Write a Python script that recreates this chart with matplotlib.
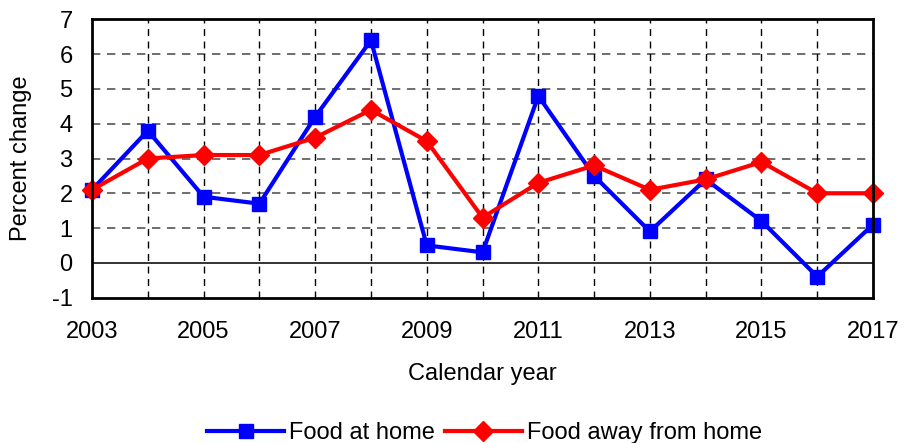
import matplotlib.pyplot as plt
import numpy as np

plt.rcParams['font.family'] = ['Liberation Sans', 'DejaVu Sans']
plt.rcParams['axes.unicode_minus'] = False

years = list(range(2003, 2018))
food_home = [2.1, 3.8, 1.9, 1.7, 4.2, 6.4, 0.5, 0.3, 4.8, 2.5, 0.9, 2.4, 1.2, -0.4, 1.1]
food_away = [2.1, 3.0, 3.1, 3.1, 3.6, 4.4, 3.5, 1.3, 2.3, 2.8, 2.1, 2.4, 2.9, 2.0, 2.0]
xticks = [2003, 2005, 2007, 2009, 2011, 2013, 2015, 2017]
yticks = list(range(-1, 8))

fig = plt.figure(figsize=(9.14, 4.43), dpi=100)
ax = fig.add_axes([0.1007, 0.3284, 0.8545, 0.6276])

# grid
for y in yticks[1:-1]:
    if y == 0:
        continue
    ax.axhline(y, color='#555555', lw=1.2, ls=(0, (5, 4)), zorder=1)
for x in years[1:-1]:
    ax.axvline(x, color='black', lw=1.0, ls=(0, (5, 4)), zorder=1)
ax.axhline(0, color='#333333', lw=1.4, zorder=1)

ax.plot(years, food_home, color='#0000ff', lw=3, marker='s', ms=10,
        label='Food at home', zorder=3, clip_on=False)
ax.plot(years, food_away, color='#ff0000', lw=3, marker='D', ms=10,
        label='Food away from home', zorder=4, clip_on=False)

ax.set_xlim(2003, 2017)
ax.set_ylim(-1, 7)
ax.set_xticks(xticks)
ax.set_yticks(yticks)
ax.tick_params(axis='both', length=0, labelsize=17)
ax.tick_params(axis='x', pad=17)
ax.tick_params(axis='y', pad=14)
for s in ax.spines.values():
    s.set_linewidth(2)
    s.set_zorder(5)
ax.set_xlabel('Calendar year', fontsize=17, labelpad=14)
ax.set_ylabel('Percent change', fontsize=17, labelpad=14)

fig.legend(loc='lower center', bbox_to_anchor=(0.53, -0.05), ncol=2, frameon=False,
           fontsize=17, handlelength=3.3, columnspacing=0.4, handletextpad=0.2)

fig.savefig('out.png', dpi=100)
